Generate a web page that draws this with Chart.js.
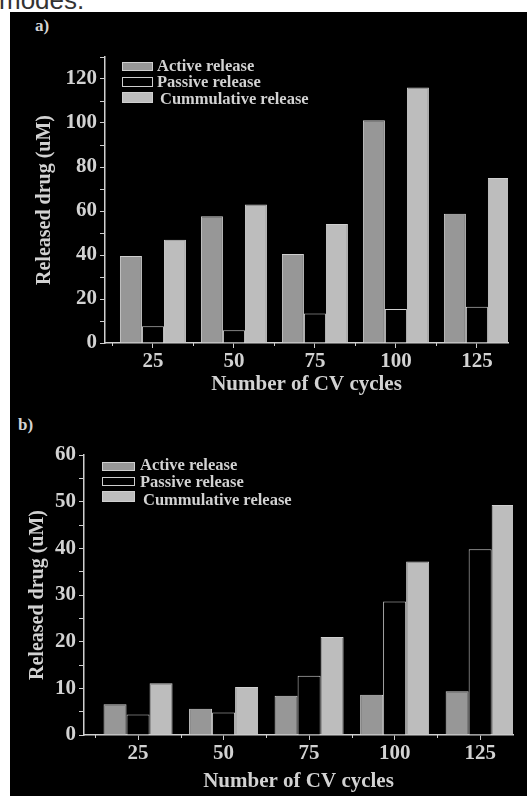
<!DOCTYPE html>
<html>
<head>
<meta charset="utf-8">
<script src="https://cdn.jsdelivr.net/npm/chart.js@4"></script>
<style>
  body { margin: 0; background: #fff; width: 527px; height: 796px; overflow: hidden; position: relative; }
  #caption { position: absolute; left: -1px; top: -14px; font: 26px/28px "Liberation Sans", Arial, sans-serif; color: #333; }
  #panel { position: absolute; left: 10px; top: 12px; width: 517px; height: 784px; background: #000; }
  .tag { position: absolute; color: #d4d4d4; font: bold 17px "Liberation Serif", serif; }
  canvas { position: absolute; left: 0; }
</style>
</head>
<body>
<div id="caption">modes.</div>
<div id="panel">
  <div class="tag" style="left:25px; top:4px;">a)</div>
  <div class="tag" style="left:8px; top:403px;">b)</div>
  <canvas id="chartA" width="517" height="390" style="top:0px;"></canvas>
  <canvas id="chartB" width="517" height="396" style="top:388px;"></canvas>
</div>
<script>
// number of CV cycles
const cycles = [25, 50, 75, 100, 125];
const seriesLabels = ['Active release', 'Passive release', 'Cummulative release'];

// panel a)
const activeA = [39.5, 57.6, 40.4, 101.3, 58.8];
const passiveA = [7.6, 5.8, 13.4, 15.4, 16.5];
const cumulativeA = [46.9, 62.9, 54.1, 116.1, 75.0];

// panel b)
const activeB = [6.6, 5.6, 8.4, 8.6, 9.4];
const passiveB = [4.4, 4.8, 12.7, 28.6, 39.8];
const cumulativeB = [11.1, 10.3, 21.0, 37.2, 49.3];

const textColor = '#d2d2d2';
const axisColor = '#cfcfcf';
const serif = '"Liberation Serif", "Times New Roman", serif';

function points(values) {
    return values.map((v, i) => ({x: cycles[i], y: v}));
}

// box legend inside the plot (top left) + small minor ticks between the cycles
const extras = {
    id: 'extras',
    afterDraw(chart, args, opts) {
        const ctx = chart.ctx;
        const area = chart.chartArea;
        const xs = chart.scales.x;
        ctx.save();

        ctx.strokeStyle = axisColor;
        ctx.lineWidth = 1;
        cycles.forEach(c => {
            const px = Math.round(xs.getPixelForValue(c - 12.5)) + 0.5;
            ctx.beginPath();
            ctx.moveTo(px, area.bottom);
            ctx.lineTo(px, area.bottom + 3);
            ctx.stroke();
        });

        ctx.font = 'bold 16.5px ' + serif;
        ctx.textBaseline = 'alphabetic';
        chart.data.datasets.forEach((ds, i) => {
            const row = opts.rows[i];
            const bx = area.left + opts.dx;
            const by = area.top + row.y;
            ctx.fillStyle = ds.backgroundColor;
            ctx.fillRect(bx, by, opts.boxW, row.h);
            ctx.strokeStyle = ds.borderColor;
            ctx.strokeRect(bx + 0.5, by + 0.5, opts.boxW - 1, row.h - 1);
            ctx.fillStyle = textColor;
            ctx.fillText(ds.label, area.left + row.tx, area.top + row.base);
        });
        ctx.restore();
    }
};

function makeChart(id, cfg) {
    const datasets = [cfg.active, cfg.passive, cfg.cumulative].map((vals, i) => ({
        label: seriesLabels[i],
        data: points(vals),
        backgroundColor: ['#979797', '#000000', '#bdbdbd'][i],
        borderColor: axisColor,
        borderWidth: 1,
        categoryPercentage: cfg.groupPct,
        barPercentage: 1
    }));

    new Chart(document.getElementById(id), {
        type: 'bar',
        data: {datasets: datasets},
        options: {
            responsive: false,
            animation: false,
            devicePixelRatio: 1,
            layout: {padding: cfg.padding},
            plugins: {
                legend: {display: false},
                tooltip: {enabled: false},
                extras: cfg.legend
            },
            scales: {
                x: {
                    type: 'linear',
                    min: cfg.xMin,
                    max: cfg.xMax,
                    offset: false,
                    afterFit: s => { s.height = cfg.xHeight; },
                    afterBuildTicks: s => { s.ticks = cycles.map(c => ({value: c})); },
                    grid: {display: true, offset: false, drawOnChartArea: false, tickLength: 5, color: axisColor},
                    border: {color: axisColor, width: 1.5},
                    ticks: {
                        color: textColor,
                        font: {family: serif, size: 21, weight: 'bold'},
                        padding: 1,
                        maxRotation: 0,
                        autoSkip: false
                    },
                    title: {
                        display: true,
                        text: 'Number of CV cycles',
                        color: textColor,
                        font: {family: serif, size: 21, weight: 'bold'},
                        padding: {top: 0, bottom: cfg.xTitlePad}
                    }
                },
                y: {
                    min: 0,
                    max: cfg.yMax,
                    afterFit: s => { s.width = cfg.yWidth; },
                    grid: {display: true, drawOnChartArea: false, tickLength: 5, color: axisColor},
                    border: {color: axisColor, width: 1.5},
                    ticks: {
                        stepSize: cfg.yMinor,
                        color: textColor,
                        font: {family: serif, size: 21, weight: 'bold'},
                        padding: 3,
                        autoSkip: false,
                        callback: v => (v % cfg.yMajor === 0 && v <= cfg.yLabelMax) ? String(v) : ''
                    },
                    title: {
                        display: true,
                        text: 'Released drug (uM)',
                        color: textColor,
                        font: {family: serif, size: 20, weight: 'bold'},
                        padding: {top: cfg.yTitlePad, bottom: 0}
                    }
                }
            }
        },
        plugins: [extras]
    });
}

makeChart('chartA', {
    active: activeA, passive: passiveA, cumulative: cumulativeA,
    groupPct: 0.815,
    padding: {left: 0, right: 19, top: 45, bottom: 0},
    xMin: 10.2, xMax: 134.6, xHeight: 59, xTitlePad: 5,
    yMax: 130, yMinor: 10, yMajor: 20, yLabelMax: 120, yWidth: 95, yTitlePad: 23,
    legend: {dx: 17, boxW: 31, rows: [
        {y: 5, h: 9, tx: 52, base: 14},
        {y: 20, h: 10, tx: 52, base: 30},
        {y: 35, h: 11, tx: 55, base: 47}
    ]}
});

makeChart('chartB', {
    active: activeB, passive: passiveB, cumulative: cumulativeB,
    groupPct: 0.807,
    padding: {left: 0, right: 14, top: 55, bottom: 0},
    xMin: 9.2, xMax: 134.6, xHeight: 61, xTitlePad: 2,
    yMax: 60, yMinor: 5, yMajor: 10, yLabelMax: 60, yWidth: 74, yTitlePad: 16,
    legend: {dx: 18, boxW: 33, rows: [
        {y: 7, h: 9, tx: 56, base: 15},
        {y: 22, h: 9, tx: 56, base: 32},
        {y: 36, h: 11, tx: 59, base: 50}
    ]}
});
</script>
</body>
</html>
